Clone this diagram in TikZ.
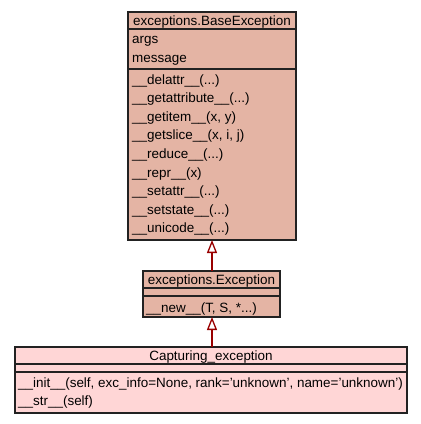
\documentclass[tikz,border=0pt]{standalone}
\usepackage{fontspec}
\setmainfont{Liberation Sans}
\usetikzlibrary{arrows.meta}
\definecolor{basefill}{HTML}{E4B4A4}
\definecolor{capfill}{HTML}{FFD6D6}
\definecolor{edgered}{HTML}{990000}
\definecolor{bordercol}{HTML}{222222}
\begin{document}
\begin{tikzpicture}[x=1pt,y=-1pt,
 box/.style={draw=bordercol, line width=1.3pt, inner sep=0pt, outer sep=0pt},
 lbl/.style={anchor=base west, inner sep=0pt, font=\fontsize{13.45}{15}\selectfont},
 ttl/.style={anchor=base, inner sep=0pt, font=\fontsize{13.45}{15}\selectfont},
 sepline/.style={draw=bordercol, line width=1.3pt},
 inherit/.style={draw=edgered, line width=2pt, -{Triangle[length=13pt,width=10pt,fill=white,line width=1.3pt]}}]
\useasboundingbox (0,0) rectangle (421,424);
\fill[white] (0,0) rectangle (421,424);

% BaseException
\node[box, fill=basefill, minimum width=168, minimum height=228] (base) at (212,126) {};
\draw[sepline] (base.west |- 0,29) -- (base.east |- 0,29);
\draw[sepline] (base.west |- 0,69) -- (base.east |- 0,69);
\node[ttl] (bt) at (212,25) {exceptions.BaseException};
\node[lbl] (b1) at (132,43) {args};
\node[lbl] (b2) at (132,62) {message};
\node[lbl] (m1) at (132,84) {\_\_delattr\_\_(...)};
\node[lbl] (m2) at (132,102.6) {\_\_getattribute\_\_(...)};
\node[lbl] (m3) at (132,121.2) {\_\_getitem\_\_(x, y)};
\node[lbl] (m4) at (132,139.8) {\_\_getslice\_\_(x, i, j)};
\node[lbl] (m5) at (132,158.4) {\_\_reduce\_\_(...)};
\node[lbl] (m6) at (132,177) {\_\_repr\_\_(x)};
\node[lbl] (m7) at (132,195.6) {\_\_setattr\_\_(...)};
\node[lbl] (m8) at (132,214.2) {\_\_setstate\_\_(...)};
\node[lbl] (m9) at (132,232.8) {\_\_unicode\_\_(...)};

% Exception
\node[box, fill=basefill, minimum width=137, minimum height=46] (exc) at (211.5,294) {};
\draw[sepline] (exc.west |- 0,288) -- (exc.east |- 0,288);
\draw[sepline] (exc.west |- 0,296) -- (exc.east |- 0,296);
\node[ttl] (et) at (211.5,284) {exceptions.Exception};
\node[lbl] (e1) at (146,312) {\_\_new\_\_(T, S, *...)};

% Capturing_exception
\node[box, fill=capfill, minimum width=392, minimum height=66] (cap) at (211,380) {};
\draw[sepline] (cap.west |- 0,364) -- (cap.east |- 0,364);
\draw[sepline] (cap.west |- 0,372) -- (cap.east |- 0,372);
\node[ttl] (ct) at (211,360) {Capturing\_exception};
\node[lbl] (c1) at (18,387.5) {\_\_init\_\_(self, exc\_info=None, rank='unknown', name='unknown')};
\node[lbl] (c2) at (18,405.5) {\_\_str\_\_(self)};

% inheritance
\draw[inherit] (exc.north -| 212,0) -- (base.south -| 212,0);
\draw[inherit] (cap.north -| 212,0) -- (exc.south -| 212,0);
\end{tikzpicture}
\end{document}
